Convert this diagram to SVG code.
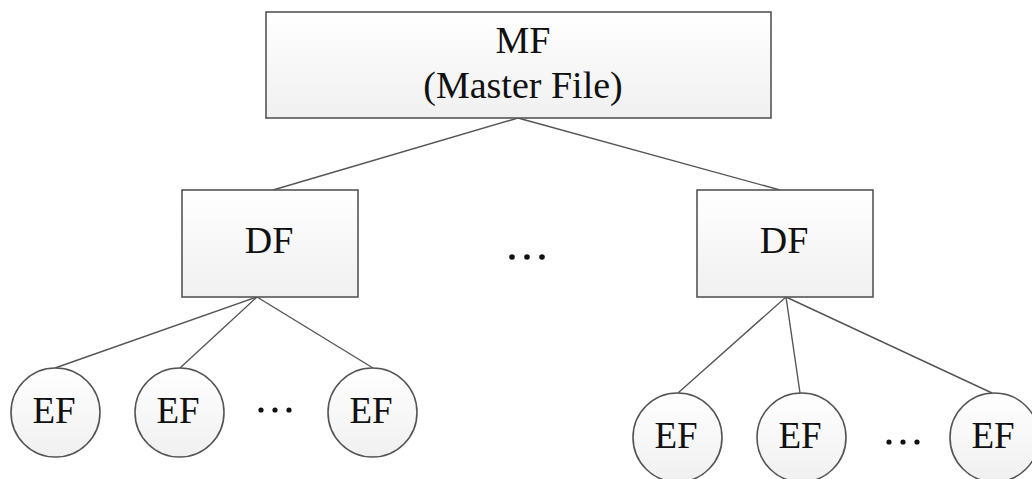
<svg xmlns="http://www.w3.org/2000/svg" width="1032" height="479" viewBox="0 0 1032 479">
<style>
.box{fill:url(#g);stroke:#555;stroke-width:1.6}
.ln{stroke:#555;stroke-width:1.4;fill:none}
.t{font-size:38px;fill:#111;text-anchor:middle}
.e{font-size:37px}
.dot{fill:#111}
</style>
<defs>
<linearGradient id="g" x1="0" y1="0" x2="0" y2="1">
<stop offset="0" stop-color="#ffffff"/>
<stop offset="1" stop-color="#f0f0f0"/>
</linearGradient>
</defs>
<rect width="1032" height="479" fill="#fff"/>
<g id="connectors">
<line class="ln" x1="518" y1="118" x2="273" y2="190"/>
<line class="ln" x1="518" y1="118" x2="780" y2="190"/>
<line class="ln" x1="257" y1="297" x2="55" y2="368"/>
<line class="ln" x1="257" y1="297" x2="180" y2="368"/>
<line class="ln" x1="257" y1="297" x2="373" y2="368"/>
<line class="ln" x1="786" y1="297" x2="678" y2="393"/>
<line class="ln" x1="786" y1="297" x2="800" y2="393"/>
<line class="ln" x1="786" y1="297" x2="992" y2="393"/>
</g>
<g font-family="'Liberation Serif', 'DejaVu Serif', serif">
<g id="mf">
<rect class="box" x="266" y="12" width="505" height="106"/>
<text class="t" x="523" y="53">MF</text>
<text class="t" x="523" y="98">(Master File)</text>
</g>
<g id="df1">
<rect class="box" x="182" y="190" width="176" height="107"/>
<text class="t" x="269" y="253">DF</text>
</g>
<g id="df2">
<rect class="box" x="697" y="190" width="176" height="107"/>
<text class="t" x="784" y="253">DF</text>
</g>
<g id="dots-mid">
<circle class="dot" cx="512" cy="257" r="2.8"/>
<circle class="dot" cx="527" cy="257" r="2.8"/>
<circle class="dot" cx="542" cy="257" r="2.8"/>
</g>
<g id="ef1">
<circle class="box" cx="55.5" cy="412.5" r="44.5"/>
<text class="t e" x="54" y="423">EF</text>
</g>
<g id="ef2">
<circle class="box" cx="179.5" cy="412.5" r="44.5"/>
<text class="t e" x="178" y="423">EF</text>
</g>
<g id="dots-left">
<circle class="dot" cx="261" cy="410" r="2.6"/>
<circle class="dot" cx="275" cy="410" r="2.6"/>
<circle class="dot" cx="289" cy="410" r="2.6"/>
</g>
<g id="ef3">
<circle class="box" cx="372.5" cy="412.5" r="44.5"/>
<text class="t e" x="371" y="423">EF</text>
</g>
<g id="ef4">
<circle class="box" cx="677.5" cy="437.5" r="44.5"/>
<text class="t e" x="676" y="448">EF</text>
</g>
<g id="ef5">
<circle class="box" cx="801.5" cy="437.5" r="44.5"/>
<text class="t e" x="800" y="448">EF</text>
</g>
<g id="dots-right">
<circle class="dot" cx="889" cy="442" r="2.6"/>
<circle class="dot" cx="903" cy="442" r="2.6"/>
<circle class="dot" cx="917" cy="442" r="2.6"/>
</g>
<g id="ef6">
<circle class="box" cx="994.5" cy="437.5" r="44.5"/>
<text class="t e" x="993" y="448">EF</text>
</g>
</g>
</svg>
